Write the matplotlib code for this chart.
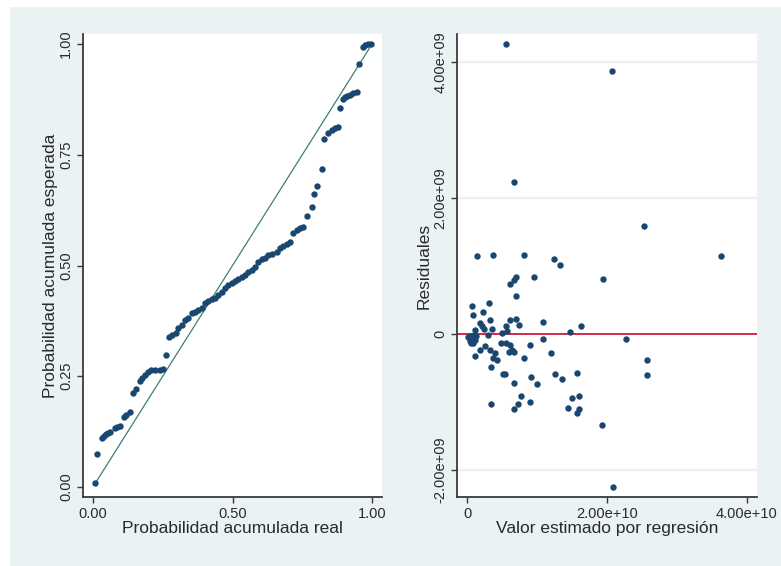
import matplotlib
matplotlib.use('Agg')
import matplotlib.pyplot as plt
import numpy as np
from matplotlib.patches import Rectangle
from matplotlib.ticker import FixedLocator, FixedFormatter

plt.rcParams['font.family'] = ['Liberation Sans', 'DejaVu Sans']

# ---------------- data ----------------
# Left panel: P-P plot (real vs expected cumulative probability)
prob_real = [0.007, 0.015, 0.032, 0.038, 0.046, 0.054, 0.062, 0.078, 0.087, 0.098,
             0.111, 0.119, 0.132, 0.143, 0.155, 0.167, 0.177, 0.185, 0.197, 0.209,
             0.221, 0.239, 0.251, 0.261, 0.272, 0.284, 0.296, 0.306, 0.318, 0.330,
             0.342, 0.354, 0.366, 0.378, 0.390, 0.401, 0.413, 0.425, 0.437, 0.449,
             0.461, 0.473, 0.485, 0.497, 0.509, 0.521, 0.533, 0.545, 0.557, 0.569,
             0.581, 0.593, 0.605, 0.616, 0.628, 0.641, 0.658, 0.670, 0.682, 0.694,
             0.706, 0.718, 0.730, 0.742, 0.754, 0.766, 0.784, 0.792, 0.804, 0.820,
             0.828, 0.843, 0.856, 0.867, 0.877, 0.885, 0.895, 0.903, 0.912, 0.921,
             0.931, 0.947, 0.955, 0.967, 0.975, 0.987, 0.995]
prob_expected = [0.009, 0.074, 0.111, 0.115, 0.119, 0.122, 0.123, 0.132, 0.135, 0.138,
                 0.157, 0.162, 0.168, 0.212, 0.221, 0.240, 0.245, 0.253, 0.259, 0.263,
                 0.263, 0.264, 0.266, 0.298, 0.338, 0.343, 0.348, 0.358, 0.366, 0.377,
                 0.381, 0.392, 0.396, 0.400, 0.403, 0.415, 0.420, 0.424, 0.427, 0.433,
                 0.441, 0.449, 0.456, 0.461, 0.466, 0.469, 0.473, 0.479, 0.485, 0.490,
                 0.497, 0.509, 0.514, 0.518, 0.524, 0.527, 0.531, 0.539, 0.544, 0.549,
                 0.554, 0.573, 0.580, 0.584, 0.586, 0.612, 0.633, 0.661, 0.680, 0.719,
                 0.785, 0.800, 0.806, 0.811, 0.812, 0.856, 0.876, 0.880, 0.883, 0.886,
                 0.889, 0.892, 0.956, 0.994, 0.999, 1.000, 1.000]
ref_line = [0.007, 0.993]

# Right panel: residuals vs fitted values (fitted in 1e10 units, residuals in 1e9 units)
fitted_e10 = [0.553, 2.07, 0.671, 2.53, 0.147, 0.371, 0.819, 1.243, 1.324, 3.629,
              0.610, 0.667, 0.700, 0.957, 0.696, 0.067, 0.310, 0.086, 0.229, 0.333,
              0.181, 0.214, 0.239, 0.353, 0.614, 0.700, 0.739, 0.557, 1.086, 0.567,
              0.496, 0.114, 0.296, 1.467, 1.629, 0.039, 0.071, 0.047, 0.104, 0.086,
              0.119, 0.057, 1.086, 0.904, 1.204, 0.190, 0.253, 0.329, 0.110, 0.371,
              0.404, 0.429, 0.490, 0.561, 0.619, 0.643, 0.596, 0.676, 0.819, 0.347,
              0.514, 0.547, 0.919, 0.676, 0.996, 1.261, 1.361, 1.567, 0.776, 0.733,
              0.896, 0.347, 0.676, 1.504, 1.604, 1.443, 1.571, 1.604, 1.929, 2.09,
              2.27, 2.57, 2.57, 1.947, 0.014, 0.129, 0.093]
resid_e9 = [4.26, 3.87, 2.24, 1.59, 1.14, 1.16, 1.16, 1.10, 1.01, 1.14,
            0.74, 0.79, 0.84, 0.84, 0.55, 0.41, 0.45, 0.28, 0.32, 0.20,
            0.16, 0.11, 0.07, 0.07, 0.20, 0.22, 0.13, 0.12, 0.18, 0.04,
            0.01, 0.05, -0.01, 0.03, 0.11, -0.03, -0.06, -0.10, -0.05, -0.13,
            -0.09, -0.14, -0.07, -0.16, -0.28, -0.24, -0.18, -0.24, -0.32, -0.35,
            -0.28, -0.38, -0.14, -0.14, -0.16, -0.24, -0.26, -0.27, -0.36, -0.49,
            -0.59, -0.59, -0.63, -0.72, -0.74, -0.59, -0.66, -0.58, -0.91, -1.03,
            -1.01, -1.03, -1.10, -0.95, -0.91, -1.09, -1.16, -1.10, -1.34, -2.25,
            -0.07, -0.38, -0.61, 0.80, -0.04, -0.03, -0.01]

left_xticks = [0.0, 0.5, 1.0]
left_xticklabels = ['0.00', '0.50', '1.00']
left_yticks = [0.0, 0.25, 0.5, 0.75, 1.0]
left_yticklabels = ['0.00', '0.25', '0.50', '0.75', '1.00']
right_xticks = [0.0, 2e10, 4e10]
right_xticklabels = ['0', '2.00e+10', '4.00e+10']
right_yticks = [-2e9, 0.0, 2e9, 4e9]
right_yticklabels = ['-2.00e+09', '0', '2.00e+09', '4.00e+09']

# ---------------- styling ----------------
W, H = 781, 566
BG = '#eaf2f3'
NAVY = '#1a476f'
TXT = '#2a2a2a'
AX = '#3a3a3a'

fig = plt.figure(figsize=(W / 100, H / 100), dpi=100, facecolor='white')
fig.patches.append(Rectangle((10 / W, 0), 1 - 10 / W, (H - 7) / H,
                             transform=fig.transFigure, facecolor=BG,
                             edgecolor='none', zorder=-10))


def style(ax):
    ax.set_facecolor('white')
    for s in ['top', 'right']:
        ax.spines[s].set_visible(False)
    for s in ['left', 'bottom']:
        ax.spines[s].set_color(AX)
        ax.spines[s].set_linewidth(1.3)
    ax.tick_params(axis='both', direction='out', length=4, width=1.0,
                   color=AX, labelcolor=TXT, labelsize=10.5, pad=3)
    ax.tick_params(axis='y', labelrotation=90)
    for lab in ax.get_yticklabels():
        lab.set_va('center')


# Left panel
ax1 = fig.add_axes([83 / W, (H - 497) / H, 299 / W, 463 / H])
ax1.plot(ref_line, ref_line, color='#3d7f6f', lw=0.9, zorder=2)
ax1.plot(prob_real, prob_expected, 'o', color=NAVY, ms=4.6, mew=0, zorder=3)
ax1.set_xlim(-0.036, 1.036)
ax1.set_ylim(-0.023, 1.023)
ax1.xaxis.set_major_locator(FixedLocator(left_xticks))
ax1.xaxis.set_major_formatter(FixedFormatter(left_xticklabels))
ax1.yaxis.set_major_locator(FixedLocator(left_yticks))
ax1.yaxis.set_major_formatter(FixedFormatter(left_yticklabels))
style(ax1)
ax1.set_xlabel('Probabilidad acumulada real', fontsize=12.5, color=TXT)
ax1.set_ylabel('Probabilidad acumulada esperada', fontsize=12.5, color=TXT)
ax1.xaxis.set_label_coords(0.5, -0.052)
ax1.yaxis.set_label_coords(-0.085, 0.5)

# Right panel
ax2 = fig.add_axes([457 / W, (H - 497) / H, 300 / W, 463 / H])
fitted = np.array(fitted_e10) * 1e10
resid = np.array(resid_e9) * 1e9
for yv in right_yticks:
    if yv != 0:
        ax2.axhline(yv, color=BG, lw=1.6, zorder=1)
ax2.axhline(0, color='#d32a4f', lw=1.4, zorder=2)
ax2.plot(fitted, resid, 'o', color=NAVY, ms=4.6, mew=0, zorder=3)
ax2.set_xlim(-0.143e10, 4.143e10)
ax2.set_ylim(-2.40e9, 4.41e9)
ax2.xaxis.set_major_locator(FixedLocator(right_xticks))
ax2.xaxis.set_major_formatter(FixedFormatter(right_xticklabels))
ax2.yaxis.set_major_locator(FixedLocator(right_yticks))
ax2.yaxis.set_major_formatter(FixedFormatter(right_yticklabels))
style(ax2)
ax2.set_xlabel('Valor estimado por regresión', fontsize=12.5, color=TXT)
ax2.set_ylabel('Residuales', fontsize=12.5, color=TXT)
ax2.xaxis.set_label_coords(0.5, -0.052)
ax2.yaxis.set_label_coords(-0.085, 0.5)

fig.savefig('out.png', dpi=100, facecolor='white')
